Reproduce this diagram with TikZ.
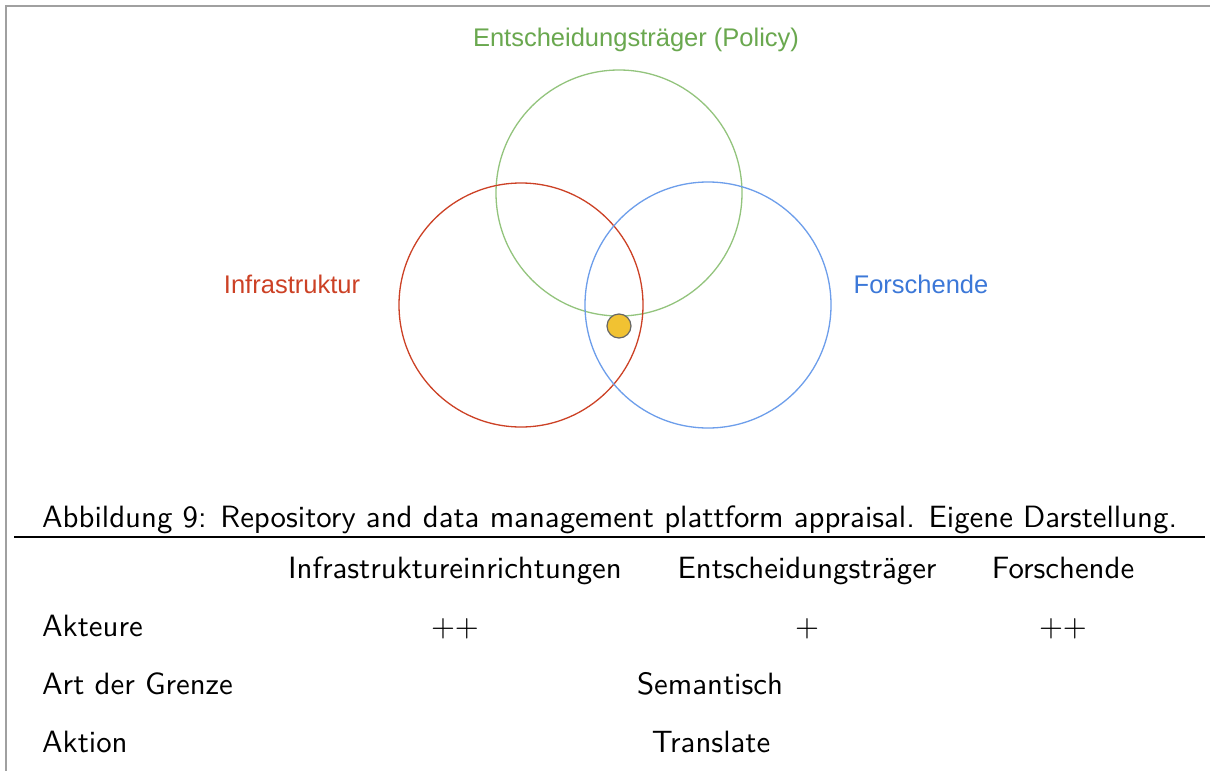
\documentclass[tikz,border=0pt]{standalone}
\usepackage{fontspec}
\usepackage{graphicx}
\newfontfamily\arialfont{Liberation Sans}
\newfontfamily\lmsf{lmsans10-regular.otf}
\definecolor{vgreen}{HTML}{93C47D}
\definecolor{vgreenT}{HTML}{6AA84F}
\definecolor{vred}{HTML}{CC4125}
\definecolor{vblue}{HTML}{6D9EEB}
\definecolor{vblueT}{HTML}{3C78D8}
\definecolor{dotfill}{HTML}{F1C232}
\definecolor{dotline}{HTML}{666666}
\definecolor{frame}{HTML}{A0A0A0}
\newcommand{\bigmath}[1]{\scalebox{3.08}{$#1$}}
\tikzset{
  venn/.style={circle, line width=1.3pt, minimum size=246pt, inner sep=0pt},
  vlabel/.style={font=\arialfont\fontsize{25.5}{30}\selectfont, inner sep=0pt},
  doc/.style={font=\lmsf\fontsize{30.8}{36}\selectfont, inner sep=0pt},
  cell/.style={doc, anchor=base},
  rowhead/.style={doc, anchor=base west},
  mathcell/.style={inner sep=0pt, anchor=base},
}
\begin{document}
\begin{tikzpicture}[x=1pt,y=-1pt]
\useasboundingbox (0,0) rectangle (1210,771);
\fill[white] (0,0) rectangle (1210,771);
% frame
\draw[frame, line width=1.5pt] (1210,6) -- (6,6) -- (6,771);
% Venn
\node[venn, draw=vgreen] (policy) at (619,193) {};
\node[venn, draw=vred, minimum size=244pt] (infra) at (521,305) {};
\node[venn, draw=vblue] (forsch) at (708,305) {};
\node[circle, fill=dotfill, draw=dotline, line width=1.2pt, minimum size=24pt, inner sep=0pt] (dot) at (619,326) {};
\node[vlabel, text=vgreenT] (lpolicy) at (636,40) {Entscheidungsträger (Policy)};
\node[vlabel, text=vred] (linfra) at (292,284) {Infrastruktur};
\node[vlabel, text=vblueT] (lforsch) at (921,284) {Forschende};
% caption
\node[doc, anchor=base west] (cap) at (42,527) {Abbildung 9: Repository and data management plattform appraisal. Eigene Darstellung.};
\coordinate (rl) at (14,537);
\coordinate (rr) at (1205,537);
\draw[line width=1.2pt] (rl) -- (rr);
% table
\node[cell] (h1) at (455,578) {Infrastruktureinrichtungen};
\node[cell] (h2) at (807,578) {Entscheidungsträger};
\node[cell] (h3) at (1063,578) {Forschende};
\node[rowhead] (r1) at (42,636) {Akteure};
\node[mathcell] (a1) at (455,636) {\bigmath{++}};
\node[mathcell] (a2) at (807,636) {\bigmath{+}};
\node[mathcell] (a3) at (1063,636) {\bigmath{++}};
\node[rowhead] (r2) at (42,694) {Art der Grenze};
\node[cell] (g) at (710,694) {Semantisch};
\node[rowhead] (r3) at (42,752) {Aktion};
\node[cell] (t) at (711,752) {Translate};
\end{tikzpicture}
\end{document}
